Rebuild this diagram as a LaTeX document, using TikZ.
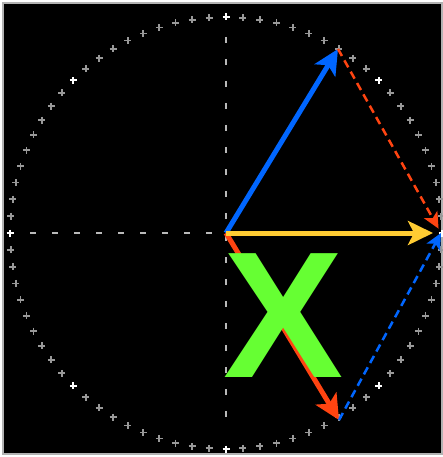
\documentclass[tikz,border=0pt]{standalone}
\usepackage{xcolor}
\usepackage{tikz}
\usepackage{fontspec}
\setmainfont{Liberation Sans}
\usetikzlibrary{arrows.meta}

\definecolor{vecblue}{RGB}{0,102,255}
\definecolor{vecred}{RGB}{255,68,17}
\definecolor{vecyellow}{RGB}{255,204,51}
\definecolor{xgreen}{RGB}{102,255,51}

\tikzset{
  vec/.style={line width=5pt, -{Stealth[length=25pt,width=24pt,inset=6pt]}},
  sumvec/.style={line width=2.5pt, dash pattern=on 8pt off 5pt, -{Stealth[length=16pt,width=15pt,inset=4pt]}},
  axis/.style={gray!55, line width=1.1pt, dash pattern=on 6pt off 16pt}
}

\begin{document}
\begin{tikzpicture}[x=1pt,y=-1pt]

\useasboundingbox (0,0) rectangle (443,457);

\draw[gray!60, line width=1.5pt, fill=black] (3,3) rectangle (442,454);

\coordinate (O) at (226,233);

\foreach \i in {0,...,79} {

  \pgfmathsetmacro{\a}{\i*4.5}

  \pgfmathsetmacro{\h}{mod(\i,10)==0 ? 1 : 0.6}

  \definecolor{markcolor}{gray}{\h}

  \draw[markcolor, line width=1.8pt] ([shift={(\a:216)}]O) ++(-3.5,0) -- ++(7,0) ++(-3.5,-3.5) -- ++(0,7);
}

\coordinate (L) at (30,233);
\coordinate (R) at (422,233);
\coordinate (T) at (226,37);
\coordinate (Bot) at (226,429);

\draw[axis] (L) -- (R);
\draw[axis] (T) -- (Bot);

\coordinate (U) at (338,49);
\coordinate (D) at (339,420);
\coordinate (S) at (441,233);
\coordinate (Y) at (433,233);

\draw[vec, vecblue] (O) -- (U);

\draw[vec, vecred] (O) -- (D);

\node[anchor=base, inner sep=0pt, text=xgreen, font=\fontsize{180pt}{180pt}\selectfont\bfseries] (X) at (283.5,377) {X};

\draw[vec, vecyellow] (O) -- (Y);

\draw[sumvec, vecred, shorten >=5pt] (U) -- (S);

\draw[sumvec, vecblue] (D) -- (S);

\end{tikzpicture}
\end{document}
